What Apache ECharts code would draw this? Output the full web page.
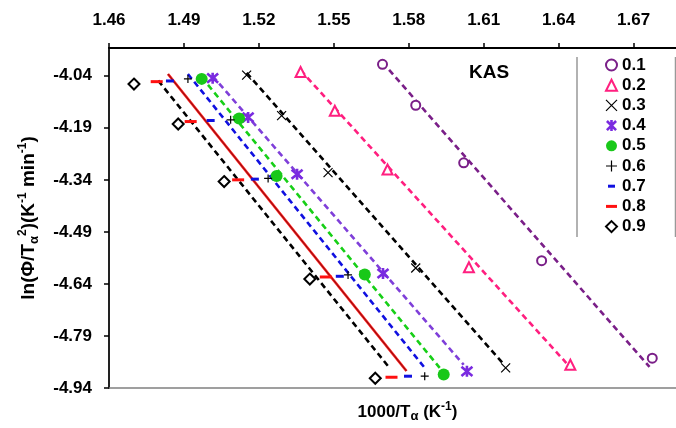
<!DOCTYPE html>
<html>
<head>
<meta charset="utf-8">
<script src="https://cdn.jsdelivr.net/npm/echarts@6/dist/echarts.min.js"></script>
<style>
html, body { margin: 0; padding: 0; background: #fff; }
#kas { width: 676px; height: 428px; }
</style>
</head>
<body>
<div id="kas"></div>
<script>
var levels = ['0.1', '0.2', '0.3', '0.4', '0.5', '0.6', '0.7', '0.8', '0.9'];
var xTicks = [1.46, 1.49, 1.52, 1.55, 1.58, 1.61, 1.64, 1.67];
var yTicks = [-4.94, -4.79, -4.64, -4.49, -4.34, -4.19, -4.04];

// points: 1000/T (x) and ln(phi/T^2) (y), one pair of arrays per conversion
var x01 = [1.5695, 1.5828, 1.6020, 1.6332, 1.6775];
var y01 = [-4.007, -4.125, -4.291, -4.573, -4.854];
var x02 = [1.5367, 1.5504, 1.5715, 1.6041, 1.6447];
var y02 = [-4.029, -4.141, -4.310, -4.592, -4.873];
var x03 = [1.5151, 1.5291, 1.5477, 1.5828, 1.6188];
var y03 = [-4.038, -4.155, -4.319, -4.594, -4.882];
var x04 = [1.5015, 1.5157, 1.5353, 1.5697, 1.6033];
var y04 = [-4.047, -4.160, -4.324, -4.610, -4.892];
var x05 = [1.4971, 1.5121, 1.5271, 1.5624, 1.5940];
var y05 = [-4.049, -4.163, -4.329, -4.613, -4.901];
var x06 = [1.4916, 1.5087, 1.5237, 1.5557, 1.5864];
var y06 = [-4.049, -4.167, -4.336, -4.614, -4.906];
var x07 = [1.4844, 1.5007, 1.5184, 1.5524, 1.5797];
var y07 = [-4.055, -4.169, -4.338, -4.618, -4.906];
var x08 = [1.4791, 1.4927, 1.5117, 1.5468, 1.5731];
var y08 = [-4.057, -4.172, -4.340, -4.620, -4.909];
var x09 = [1.4700, 1.4877, 1.5061, 1.5404, 1.5666];
var y09 = [-4.064, -4.179, -4.345, -4.626, -4.912];

// fitted lines: start and end as drawn
var fx01 = [1.5695, 1.6764], fy01 = [-4.0015, -4.8794];
var fx02 = [1.5367, 1.6431], fy02 = [-4.024, -4.868];
var fx03 = [1.5151, 1.6176], fy03 = [-4.032, -4.868];
var fx04 = [1.5015, 1.6020], fy04 = [-4.041, -4.873];
var fx05 = [1.4971, 1.5924], fy05 = [-4.044, -4.882];
var fx07 = [1.4916, 1.5864], fy07 = [-4.035, -4.882];
var fx08 = [1.4836, 1.5791], fy08 = [-4.035, -4.891];
var fx09 = [1.4797, 1.5724], fy09 = [-4.054, -4.883];

var font = "'Liberation Sans', Arial, sans-serif";

var pts = {
	'0.1': [x01, y01], '0.2': [x02, y02], '0.3': [x03, y03],
	'0.4': [x04, y04], '0.5': [x05, y05], '0.6': [x06, y06],
	'0.7': [x07, y07], '0.8': [x08, y08], '0.9': [x09, y09]
};
var fits = [
	['0.1', fx01, fy01, '#7a1f88', 'dash'],
	['0.2', fx02, fy02, '#ff1f7f', 'dash'],
	['0.3', fx03, fy03, '#000000', 'dash'],
	['0.4', fx04, fy04, '#7f3fd9', 'dash'],
	['0.5', fx05, fy05, '#17cf17', 'dash'],
	['0.7', fx07, fy07, '#1010e0', 'dash'],
	['0.8', fx08, fy08, '#ff1010', 'solid'],
	['0.9', fx09, fy09, '#000000', 'dash']
];

var looks = {
	'0.1': { symbol: 'circle', size: 9, color: '#fff', border: '#7a1f88', bw: 2 },
	'0.2': { symbol: 'triangle', size: 10, color: '#fff', border: '#ff1f7f', bw: 2 },
	'0.3': { symbol: 'path://M0,0L10,10M10,0L0,10', size: 9, color: 'transparent', border: '#000', bw: 1.2 },
	'0.4': { symbol: 'path://M0,0L10,10M10,0L0,10M5,-1L5,11', size: 11, color: 'transparent', border: '#7a2be0', bw: 2.6 },
	'0.5': { symbol: 'circle', size: 12, color: '#19c819', border: '#19c819', bw: 0 },
	'0.6': { symbol: 'path://M5,0L5,10M0,5L10,5', size: 8, color: 'transparent', border: '#000', bw: 1.2 },
	'0.7': { symbol: 'rect', size: [8, 3], color: '#1010e0', border: '#1010e0', bw: 0, icon: 'path://M0,-3M11,6M2,0h7v3h-7z' },
	'0.8': { symbol: 'rect', size: [12, 3], color: '#ff1010', border: '#ff1010', bw: 0, icon: 'path://M0,-4M11,7M0,0h11v3h-11z' },
	'0.9': { symbol: 'diamond', size: [11, 11], color: '#fff', border: '#000', bw: 2 }
};

function pairs(xs, ys) {
	var d = [];
	for (var i = 0; i < xs.length; i++)
		d.push([xs[i], ys[i]]);
	return d;
}

function fmt(v) {
	return v.toFixed(2);
}

var chart = echarts.init(document.getElementById('kas'));
var series = [];
var legendData = [];

for (var i = 0; i < fits.length; i++) {
	var f = fits[i];
	series.push({
		type: 'line', name: 'fit ' + f[0], data: pairs(f[1], f[2]),
		symbol: 'none', z: 2, silent: true,
		lineStyle: { color: f[3], width: 2.6, type: f[4] == 'dash' ? [6, 4] : 'solid' }
	});
	if (f[0] == '0.8') {
		series.push({
			type: 'line', name: 'fit 0.8 core', data: pairs(f[1], f[2]),
			symbol: 'none', z: 3, silent: true,
			lineStyle: { color: '#222', width: 0.6 }
		});
	}
}

for (var j = 0; j < levels.length; j++) {
	var k = levels[j];
	var lk = looks[k];
	series.push({
		type: 'scatter', name: k, data: pairs(pts[k][0], pts[k][1]),
		symbol: lk.symbol, symbolSize: lk.size, z: 5,
		itemStyle: { color: lk.color, borderColor: lk.border, borderWidth: lk.bw, opacity: 1 }
	});
	var item = { name: k, itemStyle: { borderWidth: lk.bw } };
	if (lk.icon) item.icon = lk.icon;
	legendData.push(item);
}

var subSup = {
	sub: { fontSize: 13, fontWeight: 'bold', fontFamily: font, color: '#000', verticalAlign: 'bottom' },
	sup: { fontSize: 12, fontWeight: 'bold', fontFamily: font, color: '#000', verticalAlign: 'top' }
};

var option = {
	animation: false,
	backgroundColor: '#fff',
	textStyle: { fontFamily: font },
	grid: { left: 109, right: 0, top: 48, bottom: 32.5 },
	xAxis: [{
		type: 'value', position: 'top', min: 1.46, max: 1.687,
		axisLine: { show: true, onZero: false, lineStyle: { color: '#000', width: 2 } },
		axisTick: { show: true, length: 5, customValues: xTicks, lineStyle: { color: '#000', width: 1.5 } },
		axisLabel: { customValues: xTicks, formatter: fmt, color: '#000', fontFamily: font, fontSize: 17, fontWeight: 'bold', margin: 19 },
		splitLine: { show: false }
	}, {
		type: 'value', position: 'bottom', min: 1.46, max: 1.687,
		axisLine: { show: true, onZero: false, lineStyle: { color: '#808080', width: 1.5 } },
		axisTick: { show: false }, axisLabel: { show: false }, splitLine: { show: false },
		name: '1000/T{sub|α} (K{sup|-1})', nameLocation: 'middle', nameGap: 13,
		nameTextStyle: {
			color: '#000', fontFamily: font, fontSize: 17, fontWeight: 'bold', lineHeight: 22,
			padding: [0, 0, 0, 30], rich: subSup
		}
	}],
	yAxis: {
		type: 'value', min: -4.94, max: -3.96,
		axisLine: { show: true, onZero: false, lineStyle: { color: '#222', width: 2 } },
		axisTick: { show: true, length: 5, customValues: yTicks, lineStyle: { color: '#000', width: 1.5 } },
		axisLabel: { customValues: yTicks, formatter: fmt, color: '#000', fontFamily: font, fontSize: 17, fontWeight: 'bold', margin: 17 },
		splitLine: { show: false },
		name: 'ln(Φ/T{sub|α}{sup|2})(K{sup|-1} min{sup|-1})', nameLocation: 'middle', nameGap: 68,
		nameTextStyle: {
			color: '#000', fontFamily: font, fontSize: 19, fontWeight: 'bold', lineHeight: 24,
			rich: subSup
		}
	},
	legend: {
		data: legendData, orient: 'vertical', left: 605, top: 56.5, padding: 0,
		itemWidth: 11, itemHeight: 11, itemGap: 3.2, selectedMode: false,
		textStyle: { color: '#000', fontFamily: font, fontSize: 17, fontWeight: 'bold', lineHeight: 17 }
	},
	graphic: [
		{ type: 'line', shape: { x1: 577, y1: 57, x2: 577, y2: 237 }, style: { stroke: '#999', lineWidth: 1.5 } },
		{ type: 'line', shape: { x1: 675.5, y1: 57, x2: 675.5, y2: 237 }, style: { stroke: '#999', lineWidth: 1.5 } },
		{ type: 'text', left: 469, top: 63, style: { text: 'KAS', fill: '#000', font: 'bold 19px ' + font } }
	],
	series: series
};

chart.setOption(option);
</script>
</body>
</html>
